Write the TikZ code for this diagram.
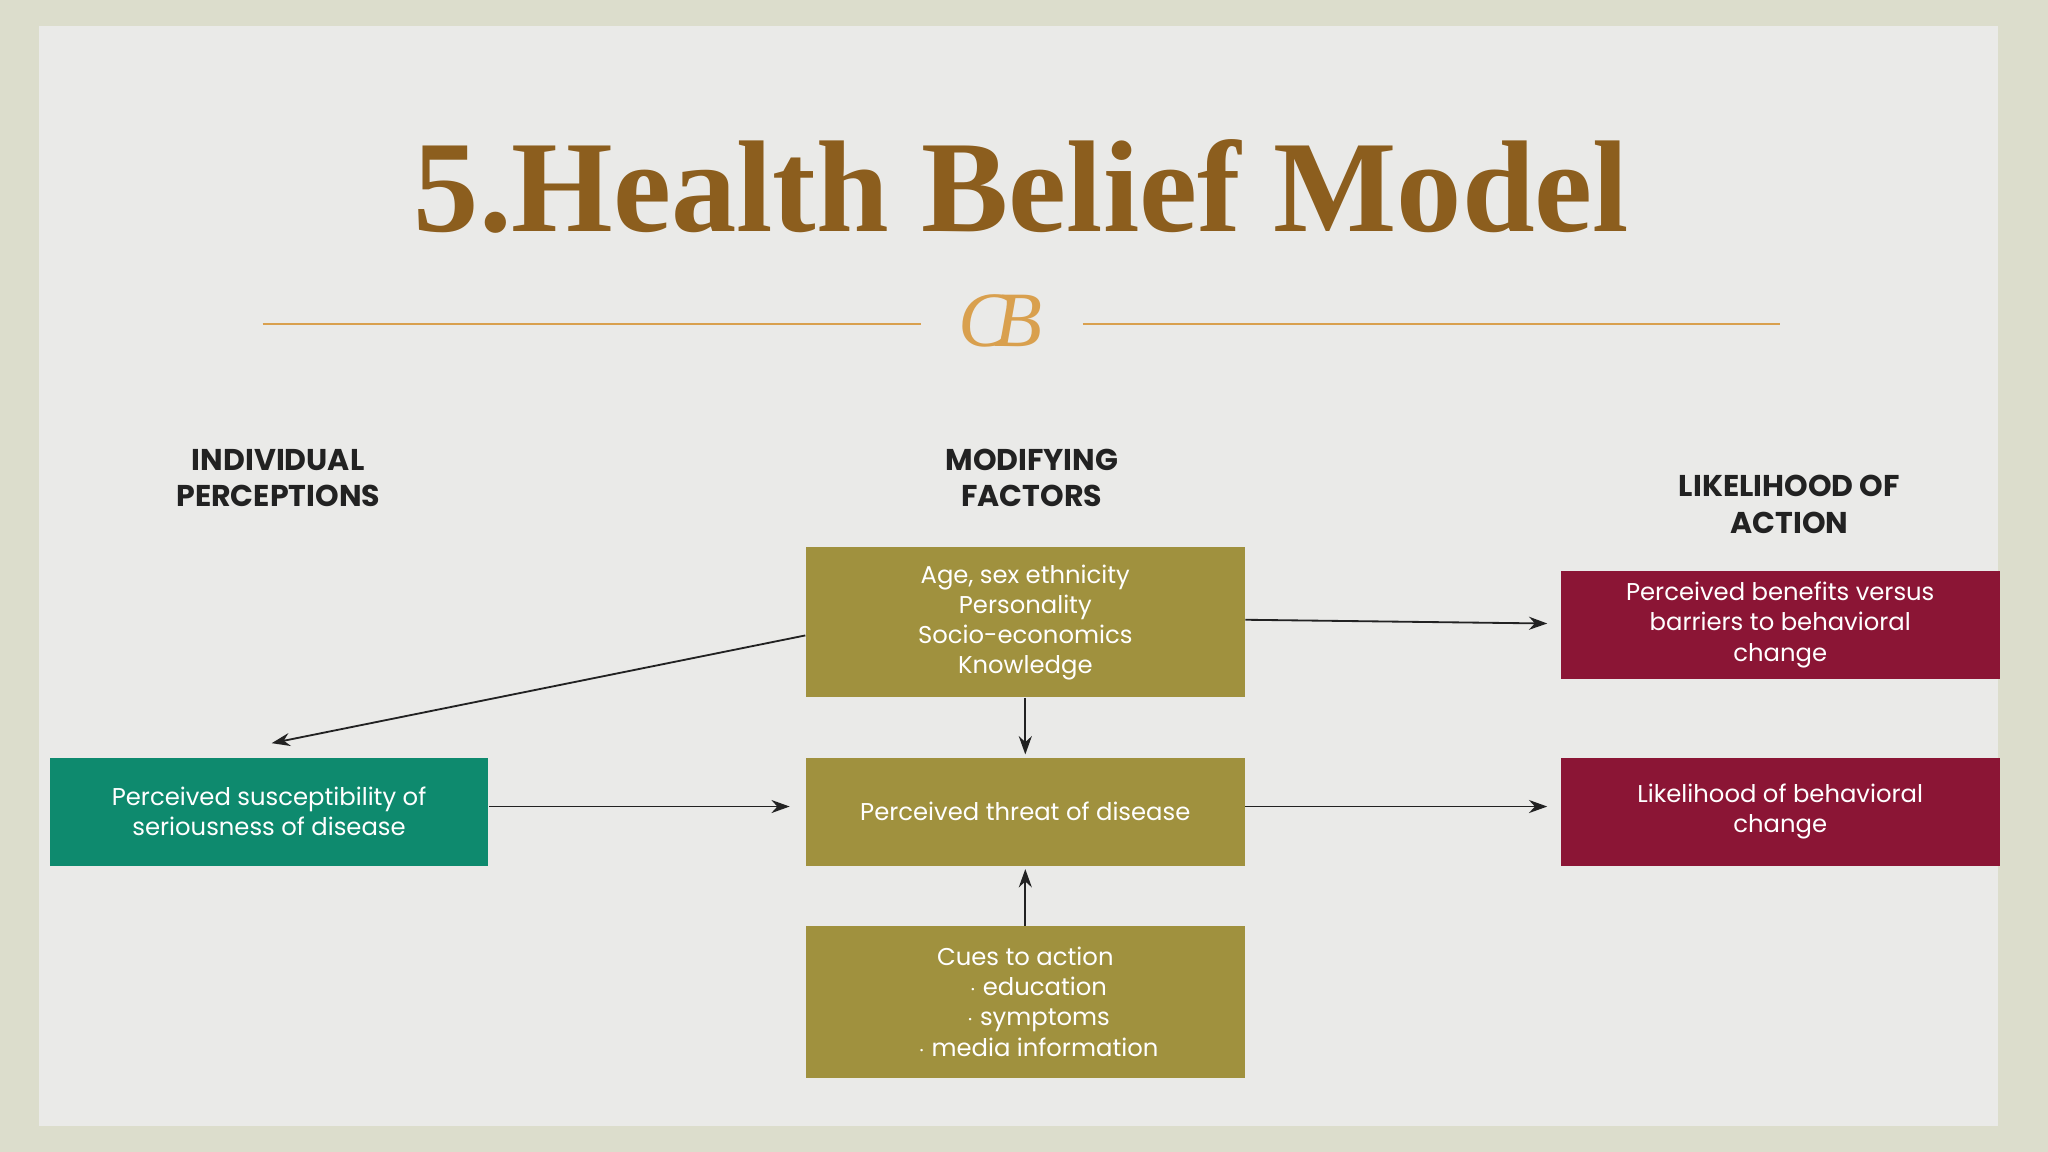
\documentclass[tikz,border=0pt]{standalone}
\usepackage{fontspec}
\setmainfont{Poppins}
\newfontfamily\titlefont{Liberation Serif}
\usetikzlibrary{arrows.meta,calc}
\definecolor{bgout}{HTML}{DCDDCC}
\definecolor{bgin}{HTML}{EAEAE8}
\definecolor{titlebr}{HTML}{8C5E1E}
\definecolor{orn}{HTML}{D9A04E}
\definecolor{olive}{HTML}{A0913E}
\definecolor{hgreen}{HTML}{0E8A6E}
\definecolor{hred}{HTML}{8B1535}
\definecolor{ink}{HTML}{222222}
\begin{document}
\begin{tikzpicture}[x=0.5pt,y=-0.5pt,
  box/.style={minimum width=168pt,text=white,align=center,font=\fontsize{9.3}{11.5}\selectfont,inner sep=0pt},
  hd/.style={align=center,font=\bfseries\fontsize{11.5}{14}\selectfont,text=ink},
  arr/.style={-{Stealth[length=7pt,width=5pt]},ink,line width=0.7pt}]
\useasboundingbox (0,0) rectangle (1568,882);
\fill[bgout] (0,0) rectangle (1568,882);
\fill[bgin] (30,20) rectangle (1530,862);
\node[font=\titlefont\bfseries\fontsize{50}{56}\selectfont,text=titlebr] (title) at (782,143) {5.Health Belief Model};
\draw[orn,line width=0.6pt] (201,248) -- (705,248);
\draw[orn,line width=0.6pt] (829,248) -- (1363,248);
\node[font=\titlefont\itshape\fontsize{30}{30}\selectfont,text=orn] (orn) at (766,246) {C\kern-6ptB};
\node[hd] (h1) at (213,366) {INDIVIDUAL\\PERCEPTIONS};
\node[hd] (h2) at (790,366) {MODIFYING\\FACTORS};
\node[hd] (h3) at (1370,386) {LIKELIHOOD OF\\ACTION};
\node[box,fill=olive,minimum height=57.5pt] (mod) at (785,476.5) {Age, sex ethnicity\\Personality\\Socio-economics\\Knowledge};
\node[box,fill=olive,minimum height=41.5pt] (threat) at (785,621.5) {Perceived threat of disease};
\node[box,fill=olive,minimum height=58pt] (cues) at (785,767) {Cues to action\\\hspace*{10pt}$\cdot$ education\\\hspace*{10pt}$\cdot$ symptoms\\\hspace*{10pt}$\cdot$ media information};
\node[box,fill=hgreen,minimum height=41.5pt] (sus) at (206,621.5) {Perceived susceptibility of\\seriousness of disease};
\node[box,fill=hred,minimum height=41.5pt] (ben) at (1363,478.5) {Perceived benefits versus\\barriers to behavioral\\change};
\node[box,fill=hred,minimum height=41.5pt] (like) at (1363,621.5) {Likelihood of behavioral\\change};
\coordinate (susin) at (208,569);
\draw[arr] ($(mod.west)+(0,-5pt)$) -- (susin);
\draw[arr,shorten >=5pt] ($(mod.east)+(0,1pt)$) -- ($(ben.west)+(0,0.5pt)$);
\draw[arr,shorten >=1pt] (mod.south) -- (threat.north);
\draw[arr,shorten >=1pt] (cues.north) -- (threat.south);
\draw[arr,shorten >=6pt] ($(sus.east)+(0,2pt)$) -- ($(threat.west)+(0,2pt)$);
\draw[arr,shorten >=5pt] ($(threat.east)+(0,2pt)$) -- ($(like.west)+(0,2pt)$);
\end{tikzpicture}
\end{document}
